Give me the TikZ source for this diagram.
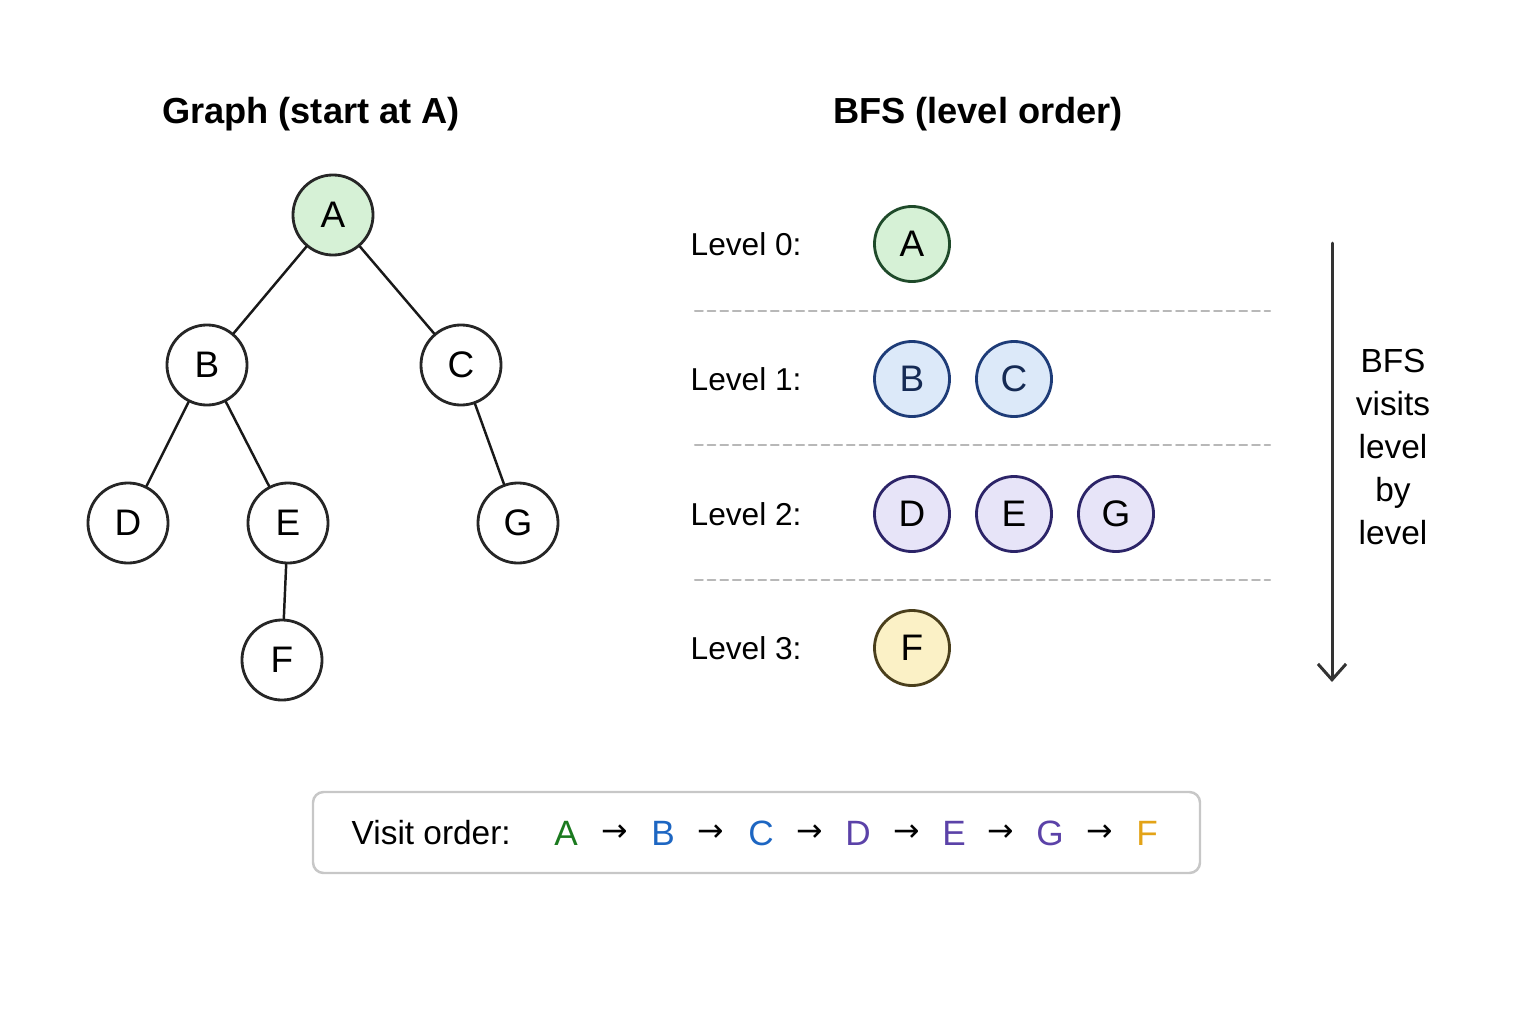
\documentclass[tikz,border=0pt]{standalone}
\usepackage{fontspec}
\setmainfont{Liberation Sans}
\newfontfamily\arrowfont{DejaVu Sans}
\usetikzlibrary{arrows.meta}
\definecolor{lvgreen}{HTML}{D6F1D6}
\definecolor{lvgreenline}{HTML}{1F4A2A}
\definecolor{lvblue}{HTML}{DCE9F9}
\definecolor{lvblueline}{HTML}{1E3C78}
\definecolor{lvpurple}{HTML}{E7E4F8}
\definecolor{lvpurpleline}{HTML}{2C2468}
\definecolor{lvyellow}{HTML}{FBF1C6}
\definecolor{lvyellowline}{HTML}{4A3F1C}
\definecolor{ordgreen}{HTML}{1B7A1F}
\definecolor{ordblue}{HTML}{1D66C2}
\definecolor{ordpurple}{HTML}{5B42A8}
\definecolor{ordgold}{HTML}{E3A317}
\tikzset{>={Straight Barb[length=4.5pt,width=8pt]},
every picture/.append style={
    line join=round,
    line cap=round
  },
  treenode/.style={circle,draw=black!85,fill=white,line width=0.8pt,minimum size=0.8cm,inner sep=0pt,font=\fontsize{10.5}{12}\selectfont},
  lvlnode/.style={circle,line width=0.8pt,minimum size=0.75cm,inner sep=0pt,font=\fontsize{10.5}{12}\selectfont},
  lvllabel/.style={anchor=west,inner sep=0pt,font=\fontsize{9}{11}\selectfont},
  sepline/.style={draw=black!28,line width=0.6pt,dash pattern=on 2.2pt off 1.4pt},
  orditem/.style={font=\fontsize{10}{12}\selectfont}
}
\begin{document}
\begin{tikzpicture}[x=0.01cm,y=-0.01cm]
        \useasboundingbox (0,0) rectangle (1536,1024);
        % titles
        \node [font=\fontsize{10.3}{12}\selectfont\bfseries] (ttree) at (311,114) {Graph (start at A)};
        \node [font=\fontsize{10.3}{12}\selectfont\bfseries] (tbfs) at (978,114) {BFS (level order)};
        % the graph
        \node [treenode,fill=lvgreen] (a) at (333,215) {A};
        \node [treenode] (b) at (207,365) {B};
        \node [treenode] (c) at (461,365) {C};
        \node [treenode] (d) at (128,523) {D};
        \node [treenode] (e) at (288,523) {E};
        \node [treenode] (g) at (518,523) {G};
        \node [treenode] (f) at (282,660) {F};
        \draw [line width=0.7pt,draw=black!90] (a) -- (b) (a) -- (c) (b) -- (d) (b) -- (e) (c) -- (g) (e) -- (f);
        % levels
        \node [lvllabel] (l0) at (690,244) {Level 0:};
        \node [lvllabel] (l1) at (690,379) {Level 1:};
        \node [lvllabel] (l2) at (690,514) {Level 2:};
        \node [lvllabel] (l3) at (690,648) {Level 3:};
        \node [lvlnode,fill=lvgreen,draw=lvgreenline] (la) at (912,244) {A};
        \node [lvlnode,fill=lvblue,draw=lvblueline,text=lvblueline!70!black] (lb) at (912,379) {B};
        \node [lvlnode,fill=lvblue,draw=lvblueline,text=lvblueline!70!black] (lc) at (1014,379) {C};
        \node [lvlnode,fill=lvpurple,draw=lvpurpleline] (ld) at (912,514) {D};
        \node [lvlnode,fill=lvpurple,draw=lvpurpleline] (le) at (1014,514) {E};
        \node [lvlnode,fill=lvpurple,draw=lvpurpleline] (lg) at (1116,514) {G};
        \node [lvlnode,fill=lvyellow,draw=lvyellowline] (lf) at (912,648) {F};
        \foreach \y in {311,445,580}
            \draw [sepline] (695,\y) -- (1270,\y);
        % direction
        \coordinate (dtop) at (1332,243);
        \coordinate (dbot) at (1332,682);
        \draw [->,draw=black!80,line width=0.85pt] (dtop) -- (dbot);
        \node [align=center,font=\fontsize{9.5}{12.2}\selectfont] (dtext) at (1393,447) {BFS\\visits\\level\\by\\level};
        % visit order
        \draw [draw=black!22,line width=0.7pt,rounded corners=3pt] (313,792) rectangle (1200,873);
        \node [anchor=west,inner sep=0pt,font=\fontsize{9.5}{12}\selectfont] (vlabel) at (351,833) {Visit order:};
        \node [orditem,text=ordgreen] (o1) at (566,833) {A};
        \node [orditem,text=ordblue] (o2) at (663,833) {B};
        \node [orditem,text=ordblue] (o3) at (761,833) {C};
        \node [orditem,text=ordpurple] (o4) at (858,833) {D};
        \node [orditem,text=ordpurple] (o5) at (954,833) {E};
        \node [orditem,text=ordpurple] (o6) at (1050,833) {G};
        \node [orditem,text=ordgold] (o7) at (1147,833) {F};
        \foreach \x in {615,711,810,907,1001,1100}
            \node [orditem,font=\arrowfont\fontsize{9}{12}\selectfont] at (\x,833) {→};
    \end{tikzpicture}
\end{document}
